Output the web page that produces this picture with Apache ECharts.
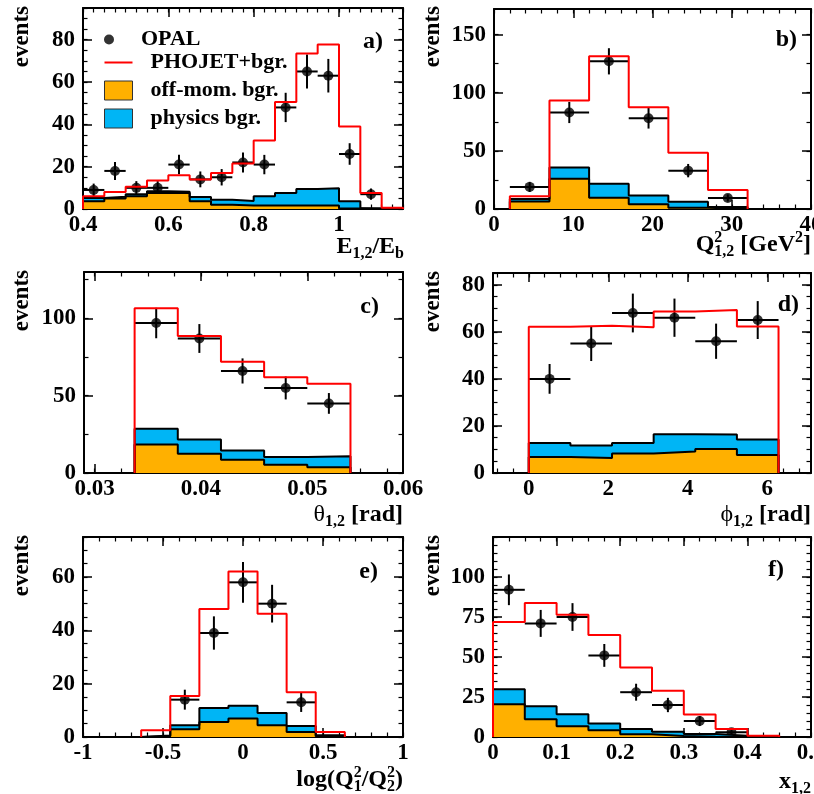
<!DOCTYPE html>
<html><head><meta charset="utf-8">
<script src="https://cdn.jsdelivr.net/npm/echarts@6/dist/echarts.min.js"></script>
<style>html,body{margin:0;padding:0;background:#fff}#c{width:814px;height:794px}</style>
</head><body><div id="c"></div>
<script>
// ---------- data ----------
// a) E_{1,2}/E_b
const aEdges  = [0.40,0.45,0.50,0.55,0.60,0.65,0.70,0.75,0.80,0.85,0.90,0.95,1.00,1.05,1.10,1.15];
const aOPAL   = [9,18,10,10,21,14,15,22,21,48,65,63,26,7,null];
const aPhojet = [6,8,10.5,13.5,16,14,17,21.5,32.4,50.6,73.5,77.8,39,7.6,0.6];
const aOffMom = [3.7,5,6,7.6,7.6,3.7,2,1.7,1.7,1.7,1.7,1.7,0.2,0,0];
const aPhys   = [1.5,0.8,1,0.8,0.5,2,2.4,2.1,4.3,5.9,7.8,8.1,3.5,0.3,0];
const aXTicks = [0.4,0.6,0.8,1];
const aYTicks = [0,20,40,60,80];
// b) Q^2_{1,2}
const bEdges  = [2,7,12,17,22,27,32];
const bOPAL   = [19,83,127,78,33,9.5];
const bPhojet = [10.9,93.4,131.4,87.4,48.3,16.3];
const bOffMom = [6.5,26,9.7,4,1,0];
const bPhys   = [2,9.7,12,7.7,5.3,1.7];
const bXTicks = [0,10,20,30,40];
const bYTicks = [0,50,100,150];
// c) theta_{1,2}
const cEdges  = [0.03376,0.03782,0.04188,0.04594,0.05,0.05406];
const cOPAL   = [97,87,66,55,45];
const cPhojet = [106.5,88.6,71.9,62,57.7];
const cOffMom = [18.4,12.5,8.6,5.4,3.7];
const cPhys   = [10.3,9.1,5.9,5,7.1];
const cXTicks = [0.03,0.04,0.05];
const cXLabels = ['0.03','0.04','0.05','0.06'];
const cYTicks = [0,50,100];
// d) phi_{1,2}
const dEdges  = [0,1.0472,2.0944,3.1416,4.1888,5.2360,6.2832];
const dOPAL   = [40,55,68,66,56,65];
const dPhojet = [62.2,62.6,61.9,68.6,69.3,62.3];
const dOffMom = [6.8,6.4,8.3,9.1,10.2,7.7];
const dPhys   = [6,5.3,4.5,7.4,6.2,6.5];
const dXTicks = [0,2,4,6];
const dYTicks = [0,20,40,60,80];
// e) log(Q1^2/Q2^2)
const eEdges  = [-0.6364,-0.4545,-0.2727,-0.0909,0.0909,0.2727,0.4545,0.6364];
const eOPAL   = [null,14,39,58,50,13,null];
const ePhojet = [2.5,15.4,48,62.1,46.2,16.8,1.9];
const eOffMom = [0.3,2.9,5.6,6.9,4.4,1.9,0.3];
const ePhys   = [0.3,1.5,5.3,4.8,4.6,2.2,0.4];
const eXTicks = [-1,-0.5,0,0.5,1];
const eYTicks = [0,20,40,60];
// f) x_{1,2}
const fEdges  = [0,0.05,0.10,0.15,0.20,0.25,0.30,0.35,0.40,0.45];
const fOPAL   = [92,71,75,51,28,20,10,3,null];
const fPhojet = [71.8,83.7,76.4,63.8,43.5,28.9,14,5,0.8];
const fOffMom = [20.5,11.1,6.7,4.2,1.7,0.6,0.2,0,0];
const fPhys   = [9.4,8.1,7.5,4.2,3.3,2.7,1.7,0.8,0];
const fXTicks = [0,0.1,0.2,0.3,0.4,0.5];
const fYTicks = [0,25,50,75,100];

// ---------- style ----------
const FONT = 'Liberation Serif';
const ORANGE = '#FFB000';
const BLUE = '#00B5F5';
const RED = '#FF0000';

const panels = [
  {edges:aEdges, opal:aOPAL, mc:aPhojet, off:aOffMom, phys:aPhys, xr:[0.4,1.15], yr:[0,95], xt:aXTicks, xlv:aXTicks, xl:aXTicks.map(String), xs:0.025, yt:aYTicks, ys:5,
   grid:{left:83,top:8,width:320,height:201}},
  {edges:bEdges, opal:bOPAL, mc:bPhojet, off:bOffMom, phys:bPhys, xr:[0,40], yr:[0,172], xt:bXTicks, xlv:bXTicks, xl:bXTicks.map(String), xs:2, yt:bYTicks, ys:25,
   grid:{left:494,top:9,width:317,height:200}},
  {edges:cEdges, opal:cOPAL, mc:cPhojet, off:cOffMom, phys:cPhys, xr:[0.029,0.059], yr:[0,130], xt:cXTicks, xlv:[0.03,0.04,0.05,0.059], xl:cXLabels, xs:0.0025, yt:cYTicks, ys:25,
   grid:{left:84,top:272,width:319,height:201}},
  {edges:dEdges, opal:dOPAL, mc:dPhojet, off:dOffMom, phys:dPhys, xr:[-0.9,7.1], yr:[0,85], xt:dXTicks, xlv:dXTicks, xl:dXTicks.map(String), xs:0.4, yt:dYTicks, ys:5,
   grid:{left:493,top:273,width:318,height:200}},
  {edges:eEdges, opal:eOPAL, mc:ePhojet, off:eOffMom, phys:ePhys, xr:[-1,1], yr:[0,75], xt:eXTicks, xlv:eXTicks, xl:eXTicks.map(String), xs:0.1, yt:eYTicks, ys:5,
   grid:{left:83,top:537,width:320,height:200}},
  {edges:fEdges, opal:fOPAL, mc:fPhojet, off:fOffMom, phys:fPhys, xr:[0,0.5], yr:[0,125], xt:fXTicks, xlv:fXTicks, xl:fXTicks.map(String), xs:0.025, yt:fYTicks, ys:5,
   grid:{left:493,top:537,width:318,height:200}}
];

function minorTicks(min, max, step){
  const r = [];
  for (let k = Math.ceil(min/step - 1e-9); k*step <= max + 1e-9; k++) r.push(+(k*step).toFixed(6));
  return r;
}
function stepData(edges, vals){
  const n = vals.length, d = [[edges[0], 0]];
  for (let i = 0; i < n; i++) d.push([edges[i], vals[i]]);
  d.push([edges[n], vals[n-1]]);
  d.push([edges[n], 0]);
  return d;
}
const labelFont = {color:'#000', fontFamily:FONT, fontWeight:'bold', fontSize:23};

const grids = [], xAxes = [], yAxes = [], series = [];
panels.forEach((p, i) => {
  grids.push(Object.assign({outerBoundsMode:'none', containLabel:false}, p.grid));
  const lineMain = {show:true, onZero:false, lineStyle:{color:'#000', width:2}};
  const lineNone = {show:false, onZero:false};
  const xb = {gridIndex:i, type:'value', min:p.xr[0], max:p.xr[1], splitLine:{show:false}};
  const yb = {gridIndex:i, type:'value', min:p.yr[0], max:p.yr[1], splitLine:{show:false}};
  const xm = minorTicks(p.xr[0], p.xr[1], p.xs);
  const ym = minorTicks(p.yr[0], p.yr[1], p.ys);
  const major = (vals) => ({show:true, inside:true, length:9, customValues:vals, lineStyle:{color:'#000', width:1.5}});
  const minor = (vals) => ({show:true, inside:true, length:4.5, customValues:vals, lineStyle:{color:'#000', width:1.2}});
  ['bottom','top'].forEach(pos => {
    xAxes.push(Object.assign({}, xb, {position:pos, axisLine:lineMain, axisTick:major(p.xt),
      axisLabel: pos === 'bottom' ? Object.assign({show:true, margin:5, customValues:p.xlv,
        formatter: v => { const k = p.xlv.indexOf(v); return k >= 0 ? p.xl[k] : String(v); }}, labelFont) : {show:false}}));
    xAxes.push(Object.assign({}, xb, {position:pos, axisLine:lineNone, axisTick:minor(xm), axisLabel:{show:false}}));
  });
  ['left','right'].forEach(pos => {
    yAxes.push(Object.assign({}, yb, {position:pos, axisLine:lineMain, axisTick:major(p.yt),
      axisLabel: pos === 'left' ? Object.assign({show:true, margin:8, customValues:p.yt}, labelFont) : {show:false}}));
    yAxes.push(Object.assign({}, yb, {position:pos, axisLine:lineNone, axisTick:minor(ym), axisLabel:{show:false}}));
  });
  const xi = 4*i, yi = 4*i;
  const total = p.off.map((v, k) => v + p.phys[k]);
  series.push({name:'physics bgr.', type:'line', xAxisIndex:xi, yAxisIndex:yi, step:'end', symbol:'none',
    data:stepData(p.edges, total), lineStyle:{color:'#000', width:2}, itemStyle:{color:BLUE},
    areaStyle:{color:BLUE, opacity:1}, silent:true});
  series.push({name:'off-mom. bgr.', type:'line', xAxisIndex:xi, yAxisIndex:yi, step:'end', symbol:'none',
    data:stepData(p.edges, p.off), lineStyle:{color:'#000', width:2}, itemStyle:{color:ORANGE},
    areaStyle:{color:ORANGE, opacity:1}, silent:true});
  series.push({name:'PHOJET+bgr.', type:'line', xAxisIndex:xi, yAxisIndex:yi, step:'end', symbol:'none',
    data:stepData(p.edges, p.mc), lineStyle:{color:RED, width:2}, itemStyle:{color:RED}, silent:true});
  const pts = [], errs = [];
  p.opal.forEach((v, k) => {
    if (v == null) return;
    const c = (p.edges[k] + p.edges[k+1]) / 2, hw = (p.edges[k+1] - p.edges[k]) / 2;
    pts.push([c, v]);
    errs.push([c, v, hw, Math.sqrt(v)]);
  });
  series.push({name:'errors', type:'custom', xAxisIndex:xi, yAxisIndex:yi, encode:{x:0, y:1}, data:errs, silent:true,
    renderItem:(params, api) => {
      const x = api.value(0), y = api.value(1), hw = api.value(2), e = api.value(3);
      const a1 = api.coord([x - hw, y]), a2 = api.coord([x + hw, y]);
      const b1 = api.coord([x, y - e]), b2 = api.coord([x, y + e]);
      return {type:'group', children:[
        {type:'line', shape:{x1:a1[0], y1:a1[1], x2:a2[0], y2:a2[1]}, style:{stroke:'#000', lineWidth:2}},
        {type:'line', shape:{x1:b1[0], y1:b1[1], x2:b2[0], y2:b2[1]}, style:{stroke:'#000', lineWidth:2}}
      ]};
    }});
  series.push({name:'OPAL', type:'scatter', xAxisIndex:xi, yAxisIndex:yi, data:pts, symbol:'circle', symbolSize:10,
    itemStyle:{color:'#000'}, silent:true});
});

// ---------- texts ----------
const base = {fontFamily:FONT, fontWeight:'bold', fontSize:24, lineHeight:30, fill:'#000', align:'left'};
const rich = {
  b: base,
  g: Object.assign({}, base, {fontWeight:'normal', fontFamily:'Liberation Serif, DejaVu Serif'}),
  s: Object.assign({}, base, {fontSize:16, lineHeight:16, verticalAlign:'bottom'}),
  p: Object.assign({}, base, {fontSize:16, lineHeight:16, verticalAlign:'top', width:0.01}),
  q: Object.assign({}, base, {fontSize:16, lineHeight:16, verticalAlign:'top'})
};
const xTitles = [
  {t:'{b|E}{s|1,2}{b|/E}{s|b}', x:404, y:262},
  {t:'{b|Q}{p|2}{s|1,2}{b| [GeV}{q|2}{b|]}', x:811, y:260},
  {t:'{g|θ}{s|1,2}{b| [rad]}', x:403, y:530},
  {t:'{g|ϕ}{s|1,2}{b| [rad]}', x:811, y:530},
  {t:'{b|log(Q}{p|2}{s|1}{b|/Q}{p|2}{s|2}{b|)}', x:403, y:795},
  {t:'{b|x}{s|1,2}', x:811, y:797}
];
const yTitles = [[34,6],[445,6],[34,270],[445,271],[34,535],[445,535]];
const tags = [['a)',383,42],['b)',797,40],['c)',379,307],['d)',799,305],['e)',378,572],['f)',784,570]];

const graphic = [];
xTitles.forEach(o => graphic.push({type:'text', x:o.x, y:o.y, silent:true,
  style:{text:o.t, rich:rich, align:'right', verticalAlign:'bottom', fontFamily:FONT, fontWeight:'bold', fontSize:24, fill:'#000'}}));
yTitles.forEach(o => graphic.push({type:'text', x:o[0], y:o[1], rotation:Math.PI/2, silent:true,
  style:{text:'events', align:'right', verticalAlign:'bottom', fontFamily:FONT, fontWeight:'bold', fontSize:23, fill:'#000'}}));
tags.forEach(o => graphic.push({type:'text', x:o[1], y:o[2], silent:true,
  style:{text:o[0], align:'right', verticalAlign:'middle', fontFamily:FONT, fontWeight:'bold', fontSize:24, fill:'#000'}}));

const legendText = {fontFamily:FONT, fontWeight:'bold', fontSize:22, color:'#000', lineHeight:19, padding:[0,0,0,13]};
const option = {
  backgroundColor:'#fff',
  animation:false,
  grid:grids, xAxis:xAxes, yAxis:yAxes, series:series, graphic:graphic,
  legend:[
    {data:[{name:'OPAL', icon:'circle'}], left:104, top:28.5, itemWidth:28, itemHeight:10, selectedMode:false, textStyle:legendText, padding:0},
    {data:[
       {name:'PHOJET+bgr.', icon:'path://M0,0L28,0L28,2L0,2Z', itemStyle:{color:RED, borderWidth:0}},
       {name:'off-mom. bgr.', icon:'rect', itemStyle:{color:ORANGE, borderColor:'#333', borderWidth:1}},
       {name:'physics bgr.', icon:'rect', itemStyle:{color:BLUE, borderColor:'#333', borderWidth:1}}],
     orient:'vertical', left:104, top:51.5, itemWidth:28, itemHeight:19, itemGap:6, selectedMode:false, textStyle:legendText, padding:0}
  ]
};
const chart = echarts.init(document.getElementById('c'), null, {renderer:'canvas'});
chart.setOption(option);
</script></body></html>
